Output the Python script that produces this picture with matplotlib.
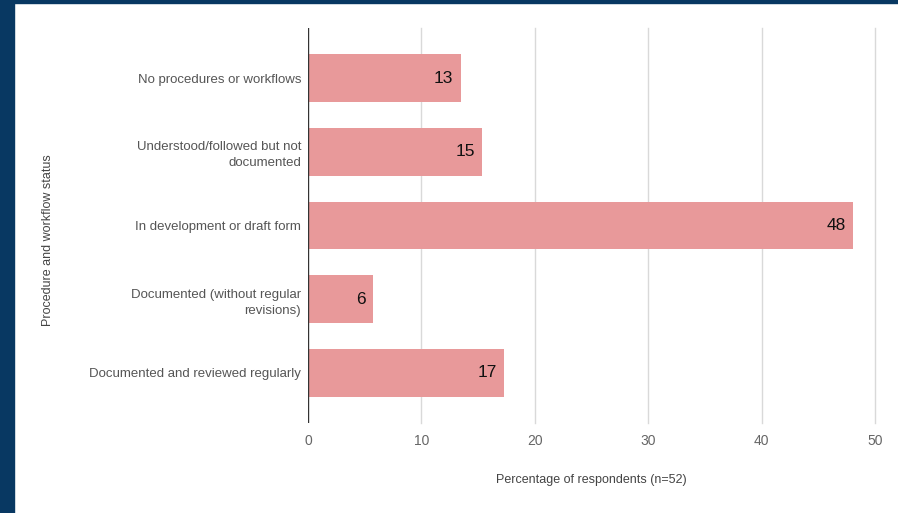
import matplotlib.pyplot as plt
import matplotlib.patches as mpatches

plt.rcParams['font.family'] = ['Liberation Sans', 'DejaVu Sans']

categories = [
    "No procedures or workflows",
    "Understood/followed but not\ndocumented",
    "In development or draft form",
    "Documented (without regular\nrevisions)",
    "Documented and reviewed regularly",
]
values = [13.46, 15.38, 48.08, 5.77, 17.31]
labels = ["13", "15", "48", "6", "17"]

W, H = 898, 513
fig = plt.figure(figsize=(W / 100, H / 100), dpi=100)
fig.patch.set_facecolor("white")

# navy frame on the left and top
fig.patches.append(mpatches.Rectangle((0, 0), 14 / W, 1, transform=fig.transFigure,
                                      color="#083862", zorder=0))
fig.patches.append(mpatches.Rectangle((0, 1 - 3 / H), 1, 3 / H, transform=fig.transFigure,
                                      color="#083862", zorder=0))

ax = fig.add_axes([308 / W, (H - 423) / H, (875 - 308) / W, (423 - 28) / H])
ax.set_xlim(0, 50)
ax.set_ylim(4.68, -0.68)

bar_color = "#e8999a"
for i, v in enumerate(values):
    ax.barh(i, v, height=0.65, color=bar_color, zorder=2)
    ax.text(v - 0.65, i, labels[i], ha="right", va="center", fontsize=12.5, color="#111111", zorder=3)

ax.set_yticks(range(len(categories)))
ax.set_yticklabels(categories, fontsize=9.5, color="#555555", ha="right", linespacing=1.45)
ax.tick_params(axis="y", length=0, pad=5)
ax.set_xticks([0, 10, 20, 30, 40, 50])
ax.tick_params(axis="x", length=0, pad=8, labelsize=10, labelcolor="#666666")

for x in [10, 20, 30, 40, 50]:
    ax.axvline(x, color="#d9d9d9", linewidth=1, zorder=0, clip_on=False)
ax.axvline(0, color="#333333", linewidth=1, zorder=3)
for s in ax.spines.values():
    s.set_visible(False)

fig.text(591 / W, 1 - 480 / H, "Percentage of respondents (n=52)", ha="center", va="center",
         fontsize=9, color="#444444")
fig.text(48 / W, 1 - 240 / H, "Procedure and workflow status", ha="center", va="center",
         rotation=90, fontsize=9, color="#444444")

fig.savefig("out.png", dpi=100, facecolor="white")
